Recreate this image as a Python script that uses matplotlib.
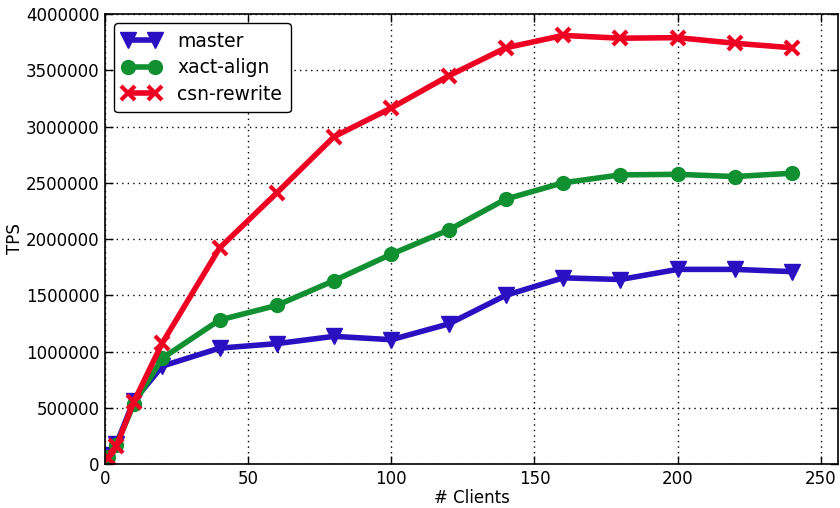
import matplotlib
matplotlib.use("Agg")
import matplotlib.pyplot as plt

clients = [1, 4, 10, 20, 40, 60, 80, 100, 120, 140, 160, 180, 200, 220, 240]
master = [80000, 180000, 560000, 870000, 1030000, 1070000, 1135000, 1105000, 1245000,
          1500000, 1655000, 1640000, 1730000, 1730000, 1710000]
xact_align = [60000, 170000, 530000, 940000, 1280000, 1410000, 1630000, 1865000, 2080000,
              2355000, 2500000, 2570000, 2575000, 2555000, 2585000]
csn_rewrite = [50000, 160000, 550000, 1075000, 1920000, 2410000, 2910000, 3165000, 3450000,
               3700000, 3810000, 3785000, 3790000, 3740000, 3700000]

xticks = [0, 50, 100, 150, 200, 250]
yticks = [0, 500000, 1000000, 1500000, 2000000, 2500000, 3000000, 3500000, 4000000]

plt.rcParams['font.family'] = ['DejaVu Sans']
fig = plt.figure(figsize=(8.4, 5.08), dpi=100)
ax = fig.add_axes([0.125, 0.0866, 0.8726, 0.8858])

ax.plot(clients, master, color='#2a10c0', lw=4, marker='v', ms=11, mec='#2a10c0', label='master')
ax.plot(clients, xact_align, color='#109030', lw=4, marker='o', ms=10, mec='#109030', label='xact-align')
ax.plot(clients, csn_rewrite, color='#ee0022', lw=4, marker='x', ms=10, mew=3, mec='#ee0022', label='csn-rewrite')

ax.set_xlim(0, 256)
ax.set_ylim(0, 4000000)
ax.set_xticks(xticks)
ax.set_yticks(yticks)
ax.set_xticklabels([str(t) for t in xticks])
ax.set_yticklabels([str(t) for t in yticks])
ax.tick_params(direction='in', top=True, right=True, length=6, width=1, labelsize=12, pad=4)
for s in ax.spines.values():
    s.set_linewidth(1.2)
ax.grid(True, color='black', linestyle=(0, (1, 3)), linewidth=1)
ax.set_xlabel('# Clients', fontsize=12, labelpad=1)
ax.set_ylabel('TPS', fontsize=12, labelpad=1)

leg = ax.legend(loc='upper left', fontsize=13.5, frameon=True, fancybox=True, numpoints=2,
                edgecolor='black', framealpha=1, borderpad=0.45, handlelength=2.0,
                handletextpad=0.9, labelspacing=0.4)
leg.get_frame().set_linewidth(1)

fig.savefig('out.png', dpi=100)
